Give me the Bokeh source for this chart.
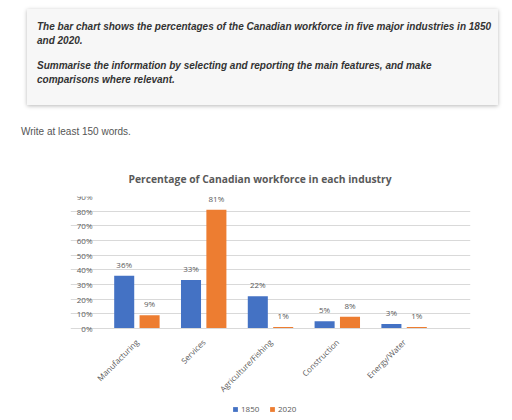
from bokeh.plotting import figure
from bokeh.layouts import column
from bokeh.models import (ColumnDataSource, Range1d, FactorRange, FixedTicker,
                          PrintfTickFormatter, Legend, LegendItem, Div)
from bokeh.transform import dodge
from bokeh.core.properties import value
from bokeh.embed import file_html
from bokeh.resources import INLINE
import math

# ---- data ----
industries = ["Manufacturing", "Services", "Agriculture/Fishing", "Construction", "Energy/Water"]
pct_1850 = [36, 33, 22, 5, 3]
pct_2020 = [9, 81, 1, 8, 1]
y_ticks = [0, 10, 20, 30, 40, 50, 60, 70, 80, 90]
series_names = ["1850", "2020"]

task_para1 = ["The bar chart shows the percentages of the Canadian workforce in five major industries in 1850",
              "and 2020."]
task_para2 = ["Summarise the information by selecting and reporting the main features, and make",
              "comparisons where relevant."]
instruction = "Write at least 150 words."
chart_title = "Percentage of Canadian workforce in each industry"

BLUE = "#4472C4"
ORANGE = "#ED7D31"
GREY_TXT = "#595959"
GRID = "#D9D9D9"

W = 496
TOP_H = 137
CHART_H = 270
FRAME_TOP = 49            # px from top of chart figure to the 90% line
FRAME_LEFT = 70
FRAME_RIGHT = 26
PX_PER_PCT = 132 / 90     # vertical scale of the reference chart
PX_PER_CAT = 334 / 5      # width of one category group
SIDE_PAD = 33             # extra frame room at each side of the bar area

# ---- task box (HTML) ----
ptxt = ("margin:0;position:absolute;left:10px;white-space:nowrap;"
        "font-family:'Liberation Sans',Arial,sans-serif;font-size:10px;font-weight:bold;"
        "font-style:italic;line-height:14px;color:#333333;")
html = (
    "<div style='position:relative;width:496px;height:137px;'>"
    "<div style='position:absolute;left:22px;top:4px;width:471px;height:96px;"
    "background:#F7F7F7;box-shadow:0 1px 4px rgba(0,0,0,0.28);'>"
    f"<p style=\"{ptxt}top:11px;\">{'<br>'.join(task_para1)}</p>"
    f"<p style=\"{ptxt}top:50px;\">{'<br>'.join(task_para2)}</p>"
    "</div>"
    "<p style=\"margin:0;position:absolute;left:16px;top:120px;white-space:nowrap;"
    "font-family:'Liberation Sans',Arial,sans-serif;font-size:10px;line-height:14px;"
    f"color:#555555;\">{instruction}</p>"
    "</div>"
)
task = Div(text=html, width=W, height=TOP_H)

# ---- chart ----
src = ColumnDataSource(data=dict(
    ind=industries, a=pct_1850, b=pct_2020,
    la=[f"{v}%" for v in pct_1850], lb=[f"{v}%" for v in pct_2020]))

frame_h = CHART_H - FRAME_TOP
y_start = 90 - frame_h / PX_PER_PCT   # room below 0% for the category labels and legend

p = figure(x_range=FactorRange(*industries, range_padding=SIDE_PAD / PX_PER_CAT,
                               range_padding_units="absolute"),
           y_range=Range1d(y_start, 90),
           width=W, height=CHART_H, output_backend="svg", toolbar_location=None,
           min_border_left=FRAME_LEFT, min_border_right=FRAME_RIGHT,
           min_border_top=FRAME_TOP, min_border_bottom=0)
p.background_fill_color = "white"
p.border_fill_color = "white"
p.outline_line_color = None

p.title.text = chart_title
p.title.align = "left"
p.title.text_font = "Open Sans"
p.title.text_font_size = "10.3px"
p.title.text_font_style = "bold"
p.title.text_color = GREY_TXT
p.title.offset = 58
p.title.standoff = 21

r1 = p.vbar(x=dodge("ind", -0.19, range=p.x_range), top="a", bottom=0, width=0.3,
            source=src, fill_color=BLUE, line_color=None)
r2 = p.vbar(x=dodge("ind", 0.19, range=p.x_range), top="b", bottom=0, width=0.3,
            source=src, fill_color=ORANGE, line_color=None)

for col, lab, off in (("a", "la", -0.19), ("b", "lb", 0.19)):
    p.text(x=dodge("ind", off, range=p.x_range), y=col, text=lab, source=src,
           y_offset=-6, text_align="center", text_baseline="bottom",
           text_font=value("Open Sans"), text_font_size="8px", text_color=GREY_TXT)

p.yaxis.fixed_location = 0
p.yaxis.ticker = FixedTicker(ticks=y_ticks)
p.yaxis.formatter = PrintfTickFormatter(format="%d%%")
p.yaxis.axis_line_color = None
p.yaxis.major_tick_line_color = None
p.yaxis.minor_tick_line_color = None
p.yaxis.major_label_standoff = 5
p.yaxis.major_label_text_font = "Open Sans"
p.yaxis.major_label_text_font_size = "8px"
p.yaxis.major_label_text_color = GREY_TXT

p.xaxis.fixed_location = 0
p.xaxis.bounds = (0, len(industries))
p.xaxis.axis_line_color = GRID
p.xaxis.major_tick_line_color = None
p.xaxis.minor_tick_line_color = None
p.xaxis.major_label_orientation = math.pi / 4
p.xaxis.major_label_standoff = 6
p.xaxis.major_label_text_font = "Open Sans"
p.xaxis.major_label_text_font_size = "8px"
p.xaxis.major_label_text_color = GREY_TXT

p.xgrid.visible = False
p.ygrid.grid_line_color = GRID
p.ygrid.ticker = FixedTicker(ticks=y_ticks)
p.ygrid.bounds = (0, 90)

legend = Legend(items=[LegendItem(label=series_names[0], renderers=[r1]),
                       LegendItem(label=series_names[1], renderers=[r2])],
                orientation="horizontal", location=(162, 3),
                label_text_font="Open Sans", label_text_font_size="8px",
                label_text_color=GREY_TXT, glyph_width=6, glyph_height=6,
                label_standoff=3, spacing=8, padding=0, margin=0,
                label_height=8, border_line_color=None, background_fill_alpha=0)
p.add_layout(legend, "center")

layout = column(task, p, spacing=0)
open("out.html", "w").write(file_html(layout, INLINE))
